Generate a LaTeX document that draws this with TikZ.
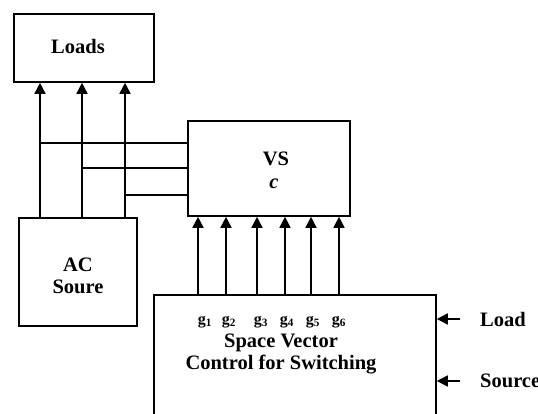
\documentclass[tikz,border=0pt]{standalone}
\usepackage{fontspec}
\setmainfont{Liberation Serif}
\usetikzlibrary{arrows.meta}
\begin{document}
\begin{tikzpicture}[x=1pt,y=-1pt,
  blk/.style={draw,line width=1.8pt,inner sep=0pt,anchor=north west},
  lbl/.style={font=\fontsize{20.5}{22}\selectfont\bfseries,align=center,inner sep=0pt},
  glbl/.style={font=\fontsize{16}{17}\selectfont\bfseries,inner sep=0pt},
  wire/.style={line width=1.6pt},
  arr/.style={line width=1.6pt,-{Triangle[length=11pt,width=11pt]}}]
\useasboundingbox (0,0) rectangle (538,414);
\fill[white] (0,0) rectangle (538,414);
% blocks
\node[blk,minimum width=140pt,minimum height=68pt] (loads) at (13,13) {};
\node[lbl] (loadst) at (78,46) {Loads};
\node[blk,minimum width=162pt,minimum height=95pt] (vsc) at (187,120) {};
\node[lbl] (vst) at (276,159) {VS};
\node[lbl,font=\fontsize{20.5}{22}\selectfont\bfseries\itshape] (vsc2) at (274,184) {c};
\node[blk,minimum width=118pt,minimum height=108pt] (ac) at (18,217) {};
\node[lbl] (act) at (78,276) {AC\\Soure};
\node[blk,minimum width=282pt,minimum height=160pt] (ctrl) at (153,294) {};
\node[lbl] (ctrlt) at (281,354) {Space Vector\\Control for Switching};
% gate labels
\node[glbl] (g1) at (205,322) {g\textsubscript{1}};
\node[glbl] (g2) at (229,322) {g\textsubscript{2}};
\node[glbl] (g3) at (261,322) {g\textsubscript{3}};
\node[glbl] (g4) at (287,322) {g\textsubscript{4}};
\node[glbl] (g5) at (313,322) {g\textsubscript{5}};
\node[glbl] (g6) at (339,322) {g\textsubscript{6}};
% external inputs
\node[lbl,anchor=west] (loadin) at (480,319) {Load};
\node[lbl,anchor=west] (srcin) at (480,381) {Source};
\draw[arr] ([xshift=-20pt]loadin.west) -- (ctrl.east |- loadin.west);
\draw[arr] ([xshift=-20pt]srcin.west) -- (ctrl.east |- srcin.west);
% AC source to loads
\coordinate (p1) at (40,0);
\coordinate (p2) at (82,0);
\coordinate (p3) at (125,0);
\draw[arr] (ac.north -| p1) -- (loads.south -| p1);
\draw[arr] (ac.north -| p2) -- (loads.south -| p2);
\draw[arr] (ac.north -| p3) -- (loads.south -| p3);
% taps to VSC
\coordinate (h1) at (40,143);
\coordinate (h2) at (82,168);
\coordinate (h3) at (125,195);
\draw[wire] (h1) -- (vsc.west |- h1);
\draw[wire] (h2) -- (vsc.west |- h2);
\draw[wire] (h3) -- (vsc.west |- h3);
% gate signals
\foreach \x in {198,226,257,285,311,339}{
  \coordinate (gx) at (\x,0);
  \draw[arr] (ctrl.north -| gx) -- (vsc.south -| gx);
}
\end{tikzpicture}
\end{document}
